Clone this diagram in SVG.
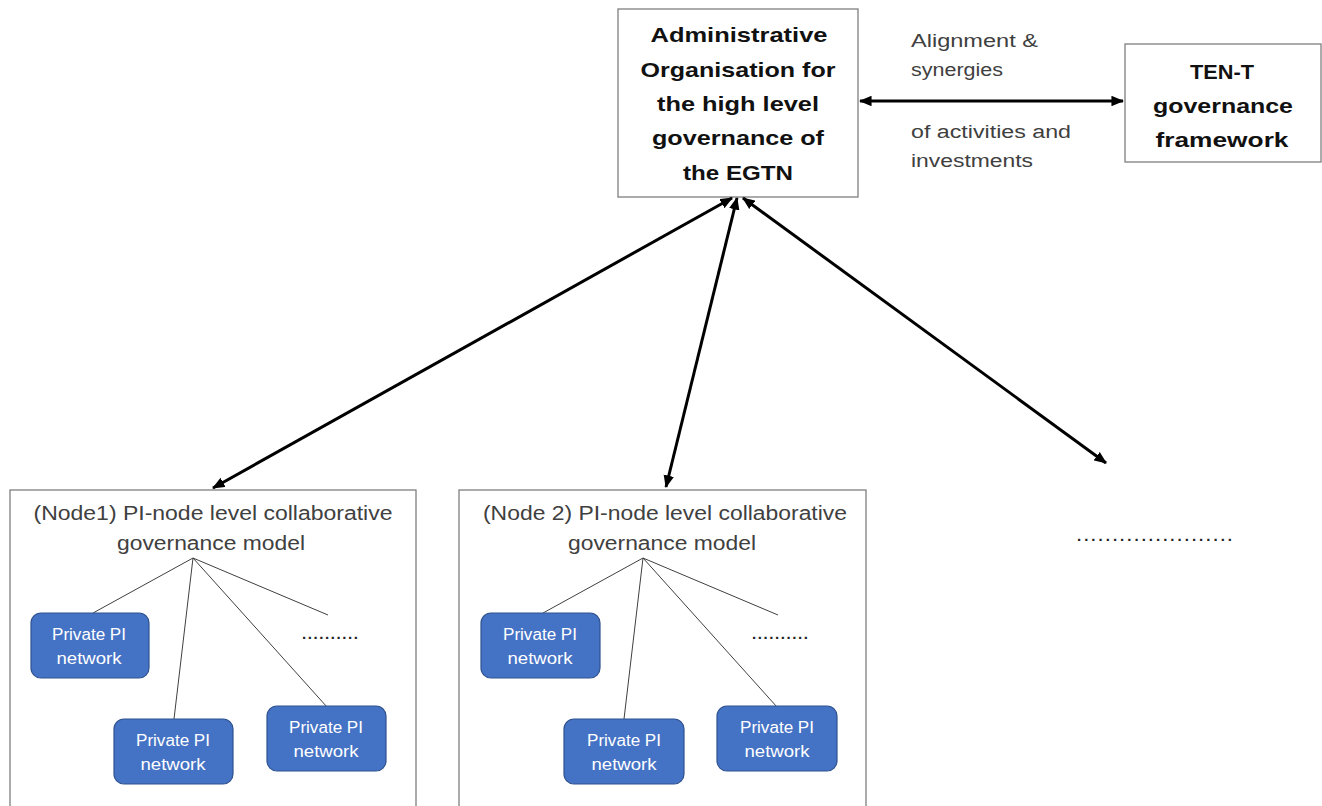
<svg xmlns="http://www.w3.org/2000/svg" width="1322" height="806" viewBox="0 0 1322 806">
  <defs>
    <marker id="arrow" viewBox="0 0 12 10" refX="11" refY="5" markerWidth="4.2" markerHeight="3.6" orient="auto-start-reverse" markerUnits="strokeWidth">
      <path d="M0,0 L12,5 L0,10 z" fill="#000"/>
    </marker>
    <style>
      .box { fill: #fff; stroke: #7f7f7f; stroke-width: 1.3; }
      .head { font-family: "Liberation Sans", Arial, sans-serif; font-weight: bold; font-size: 21px; fill: #111; text-anchor: middle; }
      .lbl { font-family: "Liberation Sans", Arial, sans-serif; font-size: 18px; fill: #404040; }
      .title { font-family: "Liberation Sans", Arial, sans-serif; font-size: 20px; fill: #404040; text-anchor: middle; }
      .pi { fill: #4472C4; stroke: #2F528F; stroke-width: 1.2; }
      .pit { font-family: "Liberation Sans", Arial, sans-serif; font-size: 16px; fill: #fff; text-anchor: middle; }
      .fan { stroke: #404040; stroke-width: 1; fill: none; }
      .dots { font-family: "Liberation Sans", Arial, sans-serif; font-size: 15px; font-weight: bold; fill: #222; }
      .conn { stroke: #000; stroke-width: 3; fill: none; marker-start: url(#arrow); marker-end: url(#arrow); }
    </style>
  </defs>

  <g id="admin-org">
    <rect class="box" x="618" y="9" width="240" height="188"/>
    <text class="head" x="739" y="42" textLength="177" lengthAdjust="spacingAndGlyphs">Administrative</text>
    <text class="head" x="738" y="77" textLength="195" lengthAdjust="spacingAndGlyphs">Organisation for</text>
    <text class="head" x="738" y="111" textLength="162" lengthAdjust="spacingAndGlyphs">the high level</text>
    <text class="head" x="738" y="145" textLength="172" lengthAdjust="spacingAndGlyphs">governance of</text>
    <text class="head" x="738" y="180" textLength="110" lengthAdjust="spacingAndGlyphs">the EGTN</text>
  </g>

  <g id="ten-t">
    <rect class="box" x="1125" y="44" width="196" height="118"/>
    <text class="head" x="1222" y="79" textLength="64" lengthAdjust="spacingAndGlyphs">TEN-T</text>
    <text class="head" x="1223" y="113" textLength="140" lengthAdjust="spacingAndGlyphs">governance</text>
    <text class="head" x="1222" y="147" textLength="133" lengthAdjust="spacingAndGlyphs">framework</text>
  </g>

  <g id="link-label">
    <text class="lbl" x="911" y="47" textLength="127" lengthAdjust="spacingAndGlyphs">Alignment  &amp;</text>
    <text class="lbl" x="911" y="76" textLength="92" lengthAdjust="spacingAndGlyphs">synergies</text>
    <text class="lbl" x="911" y="138" textLength="160" lengthAdjust="spacingAndGlyphs">of activities and</text>
    <text class="lbl" x="911" y="167" textLength="122" lengthAdjust="spacingAndGlyphs">investments</text>
  </g>

  <g id="node1">
    <rect class="box" x="10" y="490" width="406" height="330"/>
    <text class="title" x="213" y="520" textLength="359" lengthAdjust="spacingAndGlyphs">(Node1) PI-node level collaborative</text>
    <text class="title" x="211" y="550" textLength="188" lengthAdjust="spacingAndGlyphs">governance model</text>
    <path class="fan" d="M193,558 L93,613 M193,558 L174,719 M193,558 L327,707 M193,558 L328,615"/>
    <rect class="pi" x="31" y="613" width="118" height="65" rx="10"/>
    <text class="pit" x="89" y="640" textLength="74" lengthAdjust="spacingAndGlyphs">Private PI</text>
    <text class="pit" x="89" y="664" textLength="65" lengthAdjust="spacingAndGlyphs">network</text>
    <rect class="pi" x="114" y="719" width="119" height="65" rx="10"/>
    <text class="pit" x="173" y="746" textLength="74" lengthAdjust="spacingAndGlyphs">Private PI</text>
    <text class="pit" x="173" y="770" textLength="65" lengthAdjust="spacingAndGlyphs">network</text>
    <rect class="pi" x="267" y="706" width="119" height="65" rx="10"/>
    <text class="pit" x="326" y="733" textLength="74" lengthAdjust="spacingAndGlyphs">Private PI</text>
    <text class="pit" x="326" y="757" textLength="65" lengthAdjust="spacingAndGlyphs">network</text>
    <text class="dots" x="302" y="639" textLength="56" lengthAdjust="spacing">..........</text>
  </g>

  <g id="node2">
    <rect class="box" x="459" y="490" width="407" height="330"/>
    <text class="title" x="665" y="520" textLength="364" lengthAdjust="spacingAndGlyphs">(Node 2) PI-node level collaborative</text>
    <text class="title" x="662" y="550" textLength="188" lengthAdjust="spacingAndGlyphs">governance model</text>
    <path class="fan" d="M643,558 L543,613 M643,558 L624,719 M643,558 L777,707 M643,558 L778,615"/>
    <rect class="pi" x="481" y="613" width="119" height="65" rx="10"/>
    <text class="pit" x="540" y="640" textLength="74" lengthAdjust="spacingAndGlyphs">Private PI</text>
    <text class="pit" x="540" y="664" textLength="65" lengthAdjust="spacingAndGlyphs">network</text>
    <rect class="pi" x="564" y="719" width="120" height="65" rx="10"/>
    <text class="pit" x="624" y="746" textLength="74" lengthAdjust="spacingAndGlyphs">Private PI</text>
    <text class="pit" x="624" y="770" textLength="65" lengthAdjust="spacingAndGlyphs">network</text>
    <rect class="pi" x="717" y="706" width="120" height="65" rx="10"/>
    <text class="pit" x="777" y="733" textLength="74" lengthAdjust="spacingAndGlyphs">Private PI</text>
    <text class="pit" x="777" y="757" textLength="65" lengthAdjust="spacingAndGlyphs">network</text>
    <text class="dots" x="752" y="639" textLength="56" lengthAdjust="spacing">..........</text>
  </g>

  <g id="more-nodes">
    <text class="dots" x="1077" y="541" textLength="155" lengthAdjust="spacing">......................</text>
  </g>

  <g id="connectors">
    <line class="conn" x1="860" y1="101" x2="1123" y2="101"/>
    <line class="conn" x1="732" y1="198" x2="213" y2="488"/>
    <line class="conn" x1="737" y1="198" x2="666" y2="487"/>
    <line class="conn" x1="743" y1="198" x2="1106" y2="463"/>
  </g>
</svg>
